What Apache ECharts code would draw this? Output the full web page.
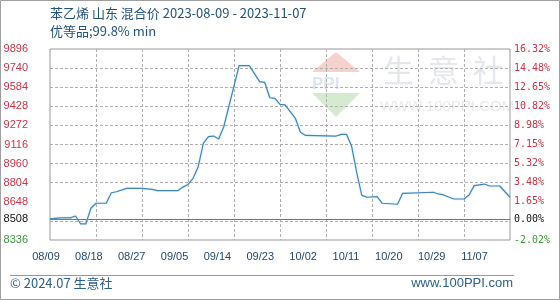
<!DOCTYPE html>
<html>
<head>
<meta charset="utf-8">
<style>
html,body{margin:0;padding:0;background:#fff;}
#c{width:560px;height:300px;}
</style>
<script src="https://cdn.jsdelivr.net/npm/echarts@6/dist/echarts.min.js"></script>
</head>
<body>
<div id="c"></div>
<script>
const startDate = '2023-08-09';
const endDate = '2023-11-07';
const dates = ['2023-08-09','2023-08-11','2023-08-13','2023-08-14','2023-08-15','2023-08-16','2023-08-17','2023-08-18','2023-08-20','2023-08-21','2023-08-22','2023-08-24','2023-08-27','2023-08-29','2023-08-30','2023-09-03','2023-09-04','2023-09-05','2023-09-06','2023-09-07','2023-09-08','2023-09-09','2023-09-10','2023-09-11','2023-09-12','2023-09-15','2023-09-17','2023-09-19','2023-09-20','2023-09-21','2023-09-22','2023-09-23','2023-09-24','2023-09-26','2023-09-27','2023-09-28','2023-10-04','2023-10-05','2023-10-06','2023-10-07','2023-10-08','2023-10-09','2023-10-10','2023-10-12','2023-10-13','2023-10-16','2023-10-17','2023-10-23','2023-10-24','2023-10-25','2023-10-27','2023-10-29','2023-10-30','2023-10-31','2023-11-02','2023-11-03','2023-11-05','2023-11-07'];
const prices = [8508,8517,8517,8532,8467,8467,8595,8636,8636,8722,8730,8758,8758,8750,8739,8739,8768,8790,8840,8935,9126,9180,9185,9161,9261,9760,9760,9629,9624,9498,9493,9444,9439,9330,9216,9190,9185,9199,9199,9104,8888,8700,8685,8690,8636,8628,8717,8726,8712,8704,8671,8671,8704,8780,8793,8777,8777,8685];
const xTickLabels = ['08/09','08/18','08/27','09/05','09/14','09/23','10/02','10/11','10/20','10/29','11/07'];
const yTickValues = [8336,8492,8648,8804,8960,9116,9272,9428,9584,9740,9896];
const leftTickLabels = ['8336','','8648','8804','8960','9116','9272','9428','9584','9740','9896'];
const rightTickLabels = ['-2.02%','','1.65%','3.48%','5.32%','7.15%','8.98%','10.82%','12.65%','14.48%','16.32%'];
const baseValue = 8508;
const baseLeftLabel = '8508';
const baseRightLabel = '0.00%';
const titleLine1 = '苯乙烯 山东 混合价 2023-08-09 - 2023-11-07';
const titleLine2 = '优等品;99.8% min';
const footerLeft = '© 2024.07 生意社';
const footerRight = 'www.100PPI.com';

const DAY = 86400000;
const t0 = Date.parse(startDate + 'T00:00:00Z');
const seriesData = dates.map((d, i) => [(Date.parse(d + 'T00:00:00Z') - t0) / DAY, prices[i]]);
const totalDays = (Date.parse(endDate + 'T00:00:00Z') - t0) / DAY;

const yMin = yTickValues[0], yMax = yTickValues[yTickValues.length - 1];
const yInt = yTickValues[1] - yTickValues[0];
// the original spaces its date labels slightly tighter than the 9-day grid
const labelSpan = 10.735;

function tickColor(idx){
  if (idx === 0) return '#3c9a3c';
  return '#cc3344';
}
const gridDash = '#b0b0b0';
const splitColors = yTickValues.map((v, i) => i === 1 ? 'rgba(255,255,255,0)' : gridDash);

const chart = echarts.init(document.getElementById('c'), null, {renderer: 'canvas'});
chart.setOption({
  backgroundColor: '#fff',
  animation: false,
  textStyle: {fontFamily: 'Liberation Sans, Arial, sans-serif'},
  grid: [
    {left: 50, right: 50, top: 49, bottom: 60, show: true, borderColor: '#999', borderWidth: 1, outerBoundsMode: 'none', containLabel: false}
  ],
  xAxis: [
    {type: 'value', gridIndex: 0, min: 0, max: totalDays, interval: 9, position: 'bottom',
     axisLine: {show: false}, axisTick: {show: false}, axisLabel: {show: false},
     splitLine: {show: true, showMinLine: false, showMaxLine: false, lineStyle: {color: gridDash, type: [3, 2], width: 1}}},
    {type: 'value', gridIndex: 0, min: 0, max: labelSpan, interval: 1, position: 'bottom',
     axisLine: {show: false}, axisTick: {show: false}, splitLine: {show: false},
     axisLabel: {show: true, margin: 11, color: '#244a6e', fontSize: 11, padding: [0, 8, 0, 0],
       fontFamily: 'Liberation Sans, Arial, sans-serif',
       showMinLabel: true, showMaxLabel: false,
       formatter: (v) => (Number.isInteger(v) && xTickLabels[v]) ? xTickLabels[v] : ''}}
  ],
  yAxis: [
    {type: 'value', gridIndex: 0, min: yMin, max: yMax, interval: yInt, position: 'left',
     axisLine: {show: false}, axisTick: {show: false},
     axisLabel: {show: true, margin: 22, fontSize: 11, fontFamily: 'Liberation Sans, Arial, sans-serif',
       formatter: (v, i) => leftTickLabels[i] || '',
       color: (v, i) => tickColor(i)},
     splitLine: {show: true, showMinLine: false, showMaxLine: false, lineStyle: {color: splitColors, type: [3, 2], width: 1}}},
    {type: 'value', gridIndex: 0, min: yMin, max: yMax, interval: yInt, position: 'right',
     axisLine: {show: false}, axisTick: {show: false}, splitLine: {show: false},
     axisLabel: {show: true, margin: 4, fontSize: 10, fontFamily: 'DejaVu Sans Mono, monospace',
       formatter: (v, i) => rightTickLabels[i] || '',
       color: (v, i) => tickColor(i)}}
  ],
  series: [{
    type: 'line',
    xAxisIndex: 0, yAxisIndex: 0,
    data: seriesData,
    symbol: 'none',
    smooth: false,
    lineStyle: {color: '#4685b2', width: 1.2, shadowColor: 'rgba(140,210,240,0.6)', shadowBlur: 2},
    markLine: {
      silent: true, symbol: 'none', animation: false,
      data: [
        {yAxis: baseValue, lineStyle: {color: '#777', width: 1, type: 'solid'},
         label: {show: true, position: 'start', distance: 22, formatter: baseLeftLabel, color: '#111', fontSize: 11, fontFamily: 'Liberation Sans, Arial, sans-serif'}},
        {yAxis: baseValue, lineStyle: {color: '#777', width: 1, type: 'solid'},
         label: {show: true, position: 'end', distance: 4, formatter: baseRightLabel, color: '#111', fontSize: 10, fontFamily: 'DejaVu Sans Mono, monospace'}}
      ]
    },
    z: 5
  }],
  graphic: [
    {type: 'rect', shape: {x: 0.5, y: 0.5, width: 559, height: 299}, style: {fill: null, stroke: '#a0a0a0', lineWidth: 1}, silent: true, z: -10},
    {type: 'polygon', shape: {points: [[336, 52], [360, 72], [312, 72]]}, style: {fill: '#f6d2cd'}, z: -5},
    {type: 'polygon', shape: {points: [[312, 93], [360, 93], [336, 117]]}, style: {fill: '#d6ead2'}, z: -5},
    {type: 'text', left: 312, top: 76, style: {text: 'PPI', fill: '#dfe4ee', fontSize: 17, fontWeight: 'bold', fontFamily: 'Liberation Sans, Arial, sans-serif'}, z: -5},
    {type: 'text', left: 383, top: 55, style: {text: '生  意  社', fill: '#e4e8ee', fontSize: 31, fontFamily: 'Noto Sans CJK SC, sans-serif'}, z: -5},
    {type: 'text', left: 380, top: 99, style: {text: 'WWW.100PPI.COM', fill: '#ebebeb', fontSize: 15, fontFamily: 'Liberation Sans, Arial, sans-serif'}, z: -5},
    {type: 'text', left: 50, top: 7, style: {text: titleLine1, fill: '#245479', fontSize: 13, fontFamily: 'Noto Sans CJK SC, sans-serif'}, z: 10},
    {type: 'text', left: 50, top: 25, style: {text: titleLine2, fill: '#245479', fontSize: 13, fontFamily: 'Noto Sans CJK SC, sans-serif'}, z: 10},
    {type: 'line', shape: {x1: 10, y1: 275.5, x2: 514, y2: 275.5}, style: {stroke: '#999', lineWidth: 1}, z: 10},
    {type: 'text', left: 10, top: 277, style: {text: footerLeft, fill: '#2e5f8a', fontSize: 13, fontFamily: 'Noto Sans CJK SC, sans-serif'}, z: 10},
    {type: 'text', right: 47, top: 277, style: {text: footerRight, fill: '#2e5f8a', fontSize: 13, fontFamily: 'Liberation Sans, Arial, sans-serif'}, z: 10}
  ]
});
</script>
</body>
</html>
